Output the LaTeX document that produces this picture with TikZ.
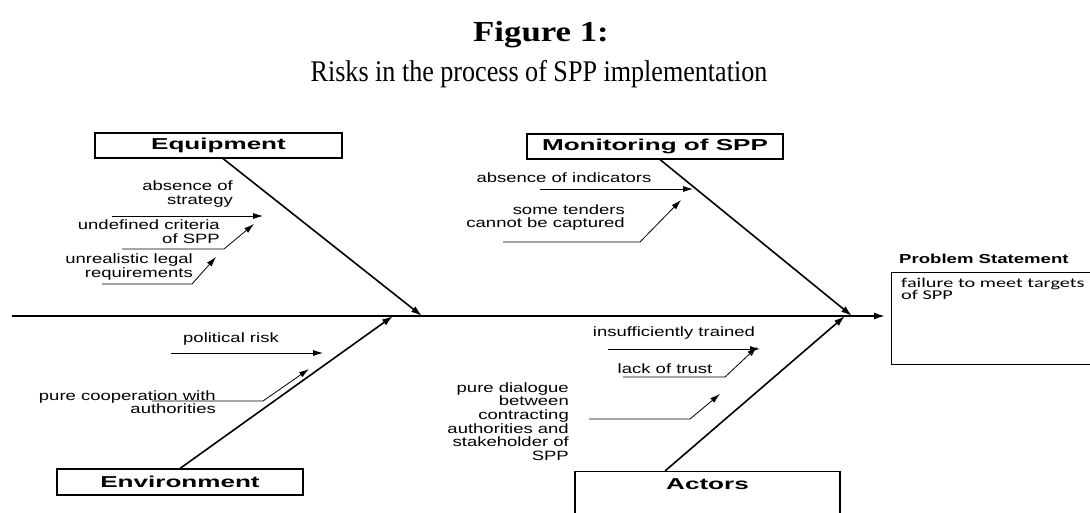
\documentclass[tikz,border=0pt]{standalone}
\usepackage{fontspec}
\setmainfont{Liberation Serif}
\newfontfamily\headfont[FakeStretch=1.2]{Liberation Serif}
\newfontfamily\subfont[FakeStretch=0.87]{Liberation Serif}
\newfontfamily\bonefont[FakeStretch=1.37]{Liberation Sans}
\newfontfamily\catfont[FakeStretch=1.65]{Liberation Sans}
\newfontfamily\probfont[FakeStretch=1.43]{Liberation Sans}
\newfontfamily\failfont[FakeStretch=1.5]{Carlito}
\usepackage{tikz}
\usetikzlibrary{arrows.meta}

\begin{document}
\begin{tikzpicture}[x=1pt,y=-1pt,
	catbox/.style={draw,line width=1.1pt,inner sep=0pt,font=\catfont\bfseries\fontsize{15.8}{18}\selectfont},
	cause/.style={inner sep=0pt,font=\bonefont\fontsize{13.5}{13.6}\selectfont},
	bone/.style={-{Latex[length=11pt,width=7pt]},line width=1.6pt},
	twig/.style={-{Latex[length=10pt,width=6pt]},line width=0.8pt}]
	 \useasboundingbox (0,0) rectangle (1090,512);
	 \clip (0,0) rectangle (1090,512);
	 % title
	 \node[font=\headfont\bfseries\fontsize{29}{32}\selectfont,anchor=base] (fig) at (541,41) {Figure 1:};
	 \node[font=\subfont\fontsize{30}{32}\selectfont,anchor=base] (title) at (539,81) {Risks in the process of SPP implementation};
	 % categories
	 \node[catbox,minimum width=247,minimum height=25] (equip) at (218.5,145.5) {Equipment};
	 \node[catbox,minimum width=256,minimum height=25] (monit) at (655,146.5) {Monitoring of SPP};
	 \node[catbox,minimum width=246,minimum height=26] (envir) at (180,482) {Environment};
	 \node[catbox,minimum width=265,inner ysep=7pt,text depth=50pt,anchor=north] (actors) at (707.5,471) {Actors};
	 % problem
	 \node[draw,line width=1.1pt,minimum width=205,minimum height=92,anchor=north west,inner sep=0pt] (problem) at (891,272) {};
	 \node[font=\probfont\bfseries\fontsize{13}{15}\selectfont,anchor=base west,inner sep=0pt] (probhead) at (899,263) {Problem Statement};
	 \node[font=\failfont\fontsize{13.5}{12}\selectfont,anchor=north west,align=left,inner sep=0pt] (probtext) at (901,278) {failure to meet targets\\of SPP};
	 % spine and bones
	 \coordinate (tail) at (12,316);
	 \coordinate (jeq) at (422,316);
	 \coordinate (jen) at (393,316);
	 \coordinate (jmo) at (852,316);
	 \coordinate (jac) at (845,316);
	 \draw[bone,shorten >=6pt] (tail) -- (tail -| problem.west);
	 \draw[bone] ([xshift=4.5pt]equip.south) -- (jeq);
	 \draw[bone] (envir.north) -- (jen);
	 \draw[bone] ([xshift=5pt]monit.south) -- (jmo);
	 \draw[bone] ([xshift=-42.5pt]actors.north) -- (jac);
	 % equipment causes
	 \node[cause,align=right,anchor=east] (strat) at (233,194) {absence of\\strategy};
	 \node[cause,align=right,anchor=east] (crit) at (220,231.5) {undefined criteria\\of SPP};
	 \node[cause,align=right,anchor=east] (legal) at (193,267) {unrealistic legal\\requirements};
	 \draw[twig] (112,216) -- (263,216);
	 \draw[twig] (122,249) -- (224,249) -- (254,224);
	 \draw[twig] (102,284) -- (192,284) -- (216,257);
	 % environment causes
	 \node[cause,anchor=base] (polit) at (231,342) {political risk};
	 \node[cause,align=right,anchor=east] (coop) at (216,402) {pure cooperation with\\authorities};
	 \draw[twig] (171,353) -- (323,353);
	 \draw[twig] (152,401) -- (263,401) -- (309,369);
	 % monitoring causes
	 \node[cause,anchor=base] (indic) at (564,182) {absence of indicators};
	 \node[cause,align=right,anchor=east] (tend) at (625,217.5) {some tenders\\cannot be captured};
	 \draw[twig] (540,189) -- (693,189);
	 \draw[twig] (503,242) -- (640,242) -- (681,200);
	 % actors causes
	 \node[cause,anchor=base] (train) at (674,336) {insufficiently trained};
	 \node[cause,anchor=base] (trust) at (665,373) {lack of trust};
	 \node[cause,align=right,anchor=east] (dial) at (569,421.5) {pure dialogue\\between\\contracting\\authorities and\\stakeholder of\\SPP};
	 \draw[twig] (608,349) -- (760,349);
	 \draw[twig] (623,377) -- (725,377) -- (757,347);
	 \draw[twig] (589,419) -- (690,419) -- (720,394);
\end{tikzpicture}
\end{document}
